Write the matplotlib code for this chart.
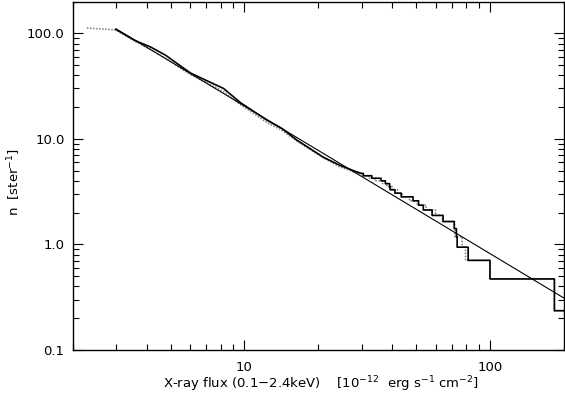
import matplotlib
matplotlib.use("Agg")
import matplotlib.pyplot as plt
import matplotlib.ticker as ticker
import numpy as np

plt.rcParams.update({
    "font.family": "DejaVu Sans",
    "font.size": 9.5,
    "axes.linewidth": 1.0,
    "xtick.direction": "in",
    "ytick.direction": "in",
    "xtick.top": True,
    "ytick.right": True,
})

# source density contributed by one source [ster^-1]
N_PER_SOURCE = 0.235

# ── faint end ──
black_faint_flux = [2.99, 3.60, 4.15, 4.77, 5.49, 6.03, 6.94, 8.22, 9.63,
                    11.26, 12.36, 14.22, 16.37, 20.94, 24.5, 28.7, 30.0]
black_faint_n = [109, 85, 74, 62, 49, 42, 36, 30, 22,
                 17.3, 15.0, 12.5, 9.7, 6.7, 5.6, 4.85, 4.7]

grey_faint_flux = [2.28, 2.60, 2.93, 3.0, 3.60, 4.15, 4.77, 5.49, 6.03,
                   6.94, 8.22, 9.63, 11.26, 12.36, 14.22, 16.37, 20.94,
                   24.5, 29.0]
grey_faint_n = [112, 110, 108, 107, 83, 70, 58, 46.5, 40.5,
                34.5, 28, 21, 16.5, 14.2, 12.0, 9.5, 6.6,
                5.4, 4.7]

# ── bright end: individual source fluxes (descending) ──
black_bright_flux = [230, 183, 100, 81.5, 73.5, 73.0, 71.5, 64.4, 58.1, 53.5,
                     51.2, 48.6, 43.5, 41.0, 39.2, 39.0, 37.5, 36.0, 33.0, 30.5]
grey_bright_flux = [230, 183, 100, 79.5, 77.0, 72.0, 71.8, 64.0, 60.0, 55.0,
                    50.5, 47.0, 44.0, 42.0, 40.0, 38.0, 36.5, 34.0, 32.0, 30.0]

# power-law fit, straight line in log-log
fit_flux = [3.0, 200.0]
fit_n = [110.0, 0.31]


def staircase(fluxes):
    """Vertices of the cumulative n(>S) staircase for a list of fluxes."""
    f = sorted(fluxes)
    k = len(f)
    xs, ys = [], []
    for i, s in enumerate(f[:-1]):
        xs += [s, s]
        ys += [(k - i) * N_PER_SOURCE, (k - i - 1) * N_PER_SOURCE]
    xs.append(f[-1])
    ys.append(N_PER_SOURCE)
    return xs, ys


fig = plt.figure(figsize=(5.65, 3.94), dpi=100)
ax = fig.add_axes([0.129, 0.112, 0.869, 0.883])

bx, by = staircase(black_bright_flux)
gx, gy = staircase(grey_bright_flux)

ax.plot(grey_faint_flux + gx, grey_faint_n + gy, color="#7f7f7f",
        linestyle=(0, (1, 1)), linewidth=1.1)
ax.plot(black_faint_flux + bx, black_faint_n + by, color="black",
        linewidth=1.2)
ax.plot(fit_flux, fit_n, color="black", linewidth=0.8)

ax.set_xscale("log")
ax.set_yscale("log")
ax.set_xlim(2.0, 200.0)
ax.set_ylim(0.1, 198.0)

ax.xaxis.set_major_locator(ticker.FixedLocator([10, 100]))
ax.xaxis.set_major_formatter(ticker.FixedFormatter(["10", "100"]))
ax.xaxis.set_minor_locator(ticker.LogLocator(base=10, subs=np.arange(2, 10)))
ax.xaxis.set_minor_formatter(ticker.NullFormatter())
ax.yaxis.set_major_locator(ticker.FixedLocator([0.1, 1, 10, 100]))
ax.yaxis.set_major_formatter(ticker.FixedFormatter(["0.1", "1.0", "10.0", "100.0"]))
ax.yaxis.set_minor_locator(ticker.LogLocator(base=10, subs=np.arange(2, 10)))
ax.yaxis.set_minor_formatter(ticker.NullFormatter())

ax.tick_params(which="major", length=7, width=0.8)
ax.tick_params(which="minor", length=4, width=0.8)
ax.tick_params(axis="x", which="major", pad=8)
ax.tick_params(axis="y", which="major", pad=6)

# axis titles placed in figure pixels so they stay inside the canvas
fig.text(0.568, 1 - 384 / 394,
         "X-ray flux (0.1\u22122.4keV)    [10$^{-12}$  erg s$^{-1}$ cm$^{-2}$]",
         ha="center", va="center")
fig.text(14 / 565, 1 - 182 / 394, "n  [ster$^{-1}$]",
         rotation=90, ha="center", va="center")

fig.savefig("out.png", dpi=100)
